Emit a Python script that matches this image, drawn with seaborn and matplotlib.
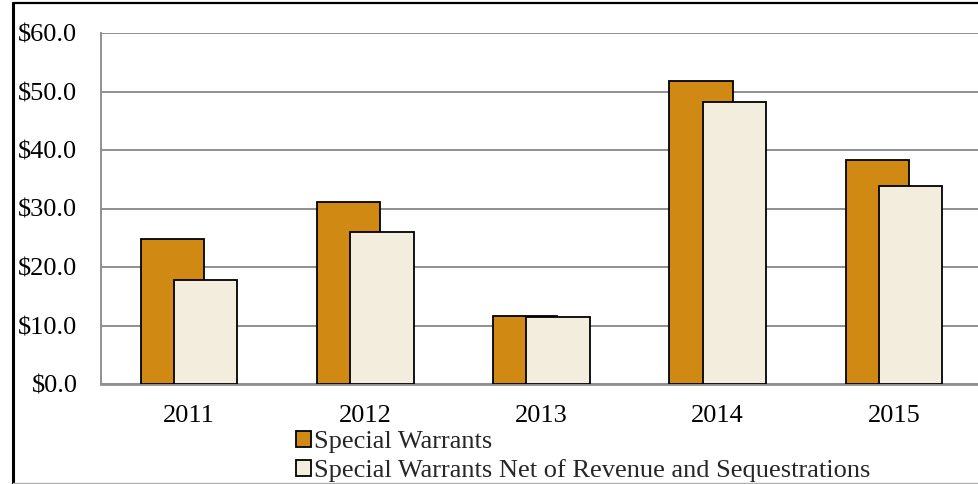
import matplotlib
matplotlib.use("Agg")
import matplotlib.pyplot as plt
from matplotlib.lines import Line2D
from matplotlib.patches import Patch
import seaborn as sns
import pandas as pd

years = ["2011", "2012", "2013", "2014", "2015"]
special_warrants = [24.8, 31.1, 11.6, 51.8, 38.3]
net_warrants = [17.8, 26.0, 11.5, 48.2, 33.8]
series_names = ["Special Warrants", "Special Warrants Net of Revenue and Sequestrations"]
colors = ["#D08A14", "#F3EDDE"]
yticks = [0, 10, 20, 30, 40, 50, 60]

df = pd.DataFrame({
    "year": years * 2,
    "value": special_warrants + net_warrants,
    "series": [series_names[0]] * len(years) + [series_names[1]] * len(years),
})

sns.set_theme(style="white")
plt.rcParams["font.family"] = ["Liberation Serif", "DejaVu Serif"]

FS = 19

fig = plt.figure(figsize=(9.79, 4.84), dpi=100)
ax = fig.add_axes([101 / 979, 100 / 484, 881 / 979, 351 / 484])

sns.barplot(data=df, x="year", y="value", hue="series", order=years,
            hue_order=series_names, palette=colors, dodge=True,
            edgecolor="black", linewidth=1.3, saturation=1, ax=ax,
            legend=False, zorder=3)

# overlapping bars: narrow width, small offset around the category centre
bar_w = 0.36
offset = 0.094
n = len(years)
for i, p in enumerate(ax.patches[:2 * n]):
    k = i % n
    s = i // n
    centre = k + (-offset if s == 0 else offset)
    p.set_x(centre - bar_w / 2)
    p.set_width(bar_w)

ax.set_xlim(-0.5, 4.5)
ax.set_ylim(0, 60)
ax.set_yticks(yticks)
ax.set_yticklabels([f"${v:.1f}" for v in yticks])
ax.set_xlabel("")
ax.set_ylabel("")
ax.yaxis.grid(True, color="#8f8f8f", linewidth=1.4, zorder=0)
ax.xaxis.grid(False)
ax.set_axisbelow(True)
for side in ["top", "right"]:
    ax.spines[side].set_visible(False)
ax.spines["left"].set_color("#8f8f8f")
ax.spines["left"].set_linewidth(1.4)
ax.spines["bottom"].set_color("#8f8f8f")
ax.spines["bottom"].set_linewidth(2.0)
ax.tick_params(axis="y", length=0, pad=17, labelsize=FS, labelcolor="black")
ax.tick_params(axis="x", length=0, pad=15, labelsize=FS, labelcolor="black")

handles = [Patch(facecolor=c, edgecolor="black", linewidth=1.3) for c in colors]
fig.legend(handles, series_names, loc="upper left",
           bbox_to_anchor=(296 / 979, 1 - 431 / 484), frameon=False,
           fontsize=FS, handlelength=0.55, handleheight=0.55,
           handletextpad=0.15, labelspacing=0.22, borderpad=0, borderaxespad=0)

# outer frame lines
fig.add_artist(Line2D([13 / 979, 13 / 979], [0, 1 - 3 / 484], color="black",
                      linewidth=2.2, transform=fig.transFigure))
fig.add_artist(Line2D([13 / 979, 1], [1 - 3 / 484, 1 - 3 / 484], color="black",
                      linewidth=1.6, transform=fig.transFigure))
fig.add_artist(Line2D([13 / 979, 1], [1 / 484, 1 / 484], color="#b0b0b0",
                      linewidth=1.0, transform=fig.transFigure))

fig.savefig("out.png", dpi=100)
